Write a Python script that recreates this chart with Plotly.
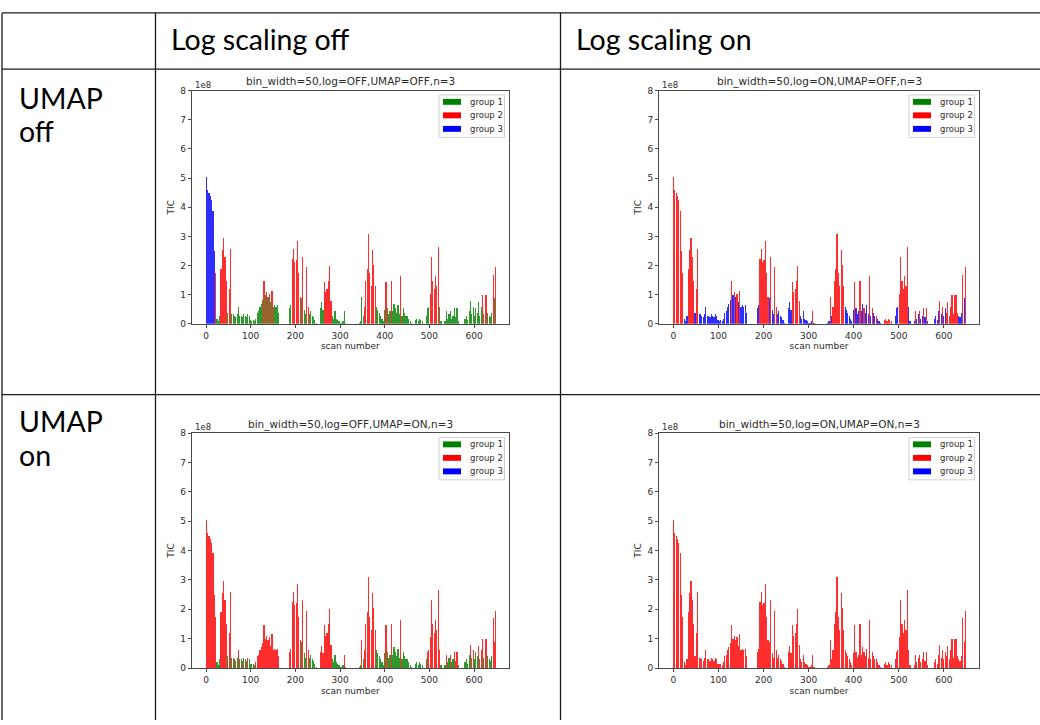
import plotly.graph_objects as go

W, H = 1040, 725

# ---------------- data (TIC in units of 1e8, one bar every 3 scans) ----------------
scan = list(range(0, 649, 3))

tic_e8 = [
    5.05, 4.6, 4.5, 4.4, 4.25, 3.9, 2.5, 1.75, 0.2, 0.1,      # 0-27
    0.3, 1.9, 2.55, 2.95, 2.3, 1.5, 0.4, 1.2, 2.6, 0.35,      # 30-57
    0.35, 0.3, 0.25, 0.35, 0.6, 0.3, 0.3, 0.25, 0.35, 0.3,    # 60-87
    0.25, 0.35, 0.3, 0.15, 0.12, 0.15, 0.1, 0.2, 0.4, 0.45,   # 90-117
    0.6, 0.7, 0.85, 1.48, 1.0, 1.1, 0.95, 1.05, 0.75, 1.15,   # 120-147
    0.6, 0.65, 0.6, 0.65, 0.4, 0, 0, 0, 0, 0,                 # 150-177
    0, 0, 0.55, 0.65, 2.25, 2.6, 2.15, 2.2, 2.85, 1.75,       # 180-207
    0.95, 0.9, 2.3, 0.5, 0.35, 1.95, 0.6, 0.35, 0.45, 0.3,    # 210-237
    0.25, 0.15, 0.05, 0, 0, 0.55, 0.75, 0.5, 1.45, 1.1,       # 240-267
    1.2, 1.5, 2.0, 0.8, 0.3, 0.2, 0.45, 0.2, 0.15, 0.1,       # 270-297
    0.05, 0.05, 0.1, 0.45, 0.05, 0, 0, 0, 0, 0,               # 300-327
    0, 0, 0, 0, 0.05, 0.1, 0.95, 0.3, 0.6, 1.5,               # 330-357
    1.9, 3.1, 1.75, 1.3, 2.55, 2.05, 1.3, 0.6, 0.5, 0.4,      # 360-387
    0.3, 0.2, 0.1, 0.5, 1.45, 0.55, 0.35, 0.45, 1.5, 0.45,    # 390-417
    0.7, 0.55, 0.4, 0.65, 0.35, 1.65, 0.3, 0.55, 0.4, 0.3,    # 420-447
    0.3, 0.2, 0.1, 0.05, 0, 0, 0.15, 0.2, 0.1, 0.2,           # 450-477
    0.15, 0.1, 0, 0, 0.3, 0.55, 0.6, 1.05, 2.3, 1.5,          # 480-507
    1.2, 1.65, 1.3, 2.65, 0.6, 0.1, 0, 0, 0.1, 0.45,          # 510-537
    0.2, 0.35, 0.45, 0.2, 0.3, 0.55, 0.25, 0.55, 0.1, 0,      # 540-567
    0, 0, 0, 0.2, 0.3, 0.15, 0.45, 0.8, 0.35, 0.6,            # 570-597
    0.3, 0.55, 0.4, 0.75, 0.3, 0.6, 1.0, 0.35, 1.0, 1.0,      # 600-627
    0.4, 0.3, 0.25, 0.4, 1.7, 0.9, 1.95,                      # 630-648
]

# cluster class of each scan bar
kind = list(
    "EEEEEEEPBB" "BPPPPPBPPB" "BCBBCBBCBB" "BCBBBBBCCC" "CCCPCPCPCP"
    "CCCCCBBBBB" "BBCCPPPPPP" "PBPBBPPBBB" "BBBBBCCCPP" "PPPPBBBBBB"
    "BBBFBBBBBB" "BBBBBBFBPP" "PPPPPPPBBB" "BBBBPBBBPB" "BDBBBPBDBB"
    "DBBBBBDDDD" "DDBBBCCPPP" "PPPPCBBBBF" "BBFBBFBFBB" "BBBBBBBFBF"
    "BBDFDFPDPP" "DBBBPCP"
)

# group assigned to each class in each of the four runs
titles = [
    "bin_width=50,log=OFF,UMAP=OFF,n=3",
    "bin_width=50,log=ON,UMAP=OFF,n=3",
    "bin_width=50,log=OFF,UMAP=ON,n=3",
    "bin_width=50,log=ON,UMAP=ON,n=3",
]
group_maps = [
    {"E": 3, "P": 2, "B": 1, "C": 1, "D": 1, "F": 1},
    {"E": 2, "P": 2, "B": 3, "C": 3, "D": 2, "F": 2},
    {"E": 2, "P": 2, "B": 1, "C": 2, "D": 1, "F": 2},
    {"E": 2, "P": 2, "B": 2, "C": 2, "D": 2, "F": 2},
]
group_names = ["group 1", "group 2", "group 3"]
y_ticks = [0, 1, 2, 3, 4, 5, 6, 7, 8]
x_ticks = [0, 100, 200, 300, 400, 500, 600]

col_headers = ["Log scaling off", "Log scaling on"]
row_headers = [("UMAP", "off"), ("UMAP", "on")]

# ---------------- styling ----------------
RGB = {1: (0, 128, 0), 2: (255, 0, 0), 3: (0, 0, 255)}
TXT = "#2b2b2b"
MPL_FONT = "DejaVu Sans"
TABLE_FONT = "Lato"

# axes boxes in pixels: (left, top, right, bottom)
boxes = [
    (191.7, 86.7, 509.0, 323.3),
    (659.0, 86.7, 979.0, 323.3),
    (191.7, 434.0, 509.0, 672.3),
    (659.0, 434.0, 979.0, 672.3),
]


def px(x):
    return x / W


def py(y):
    return 1 - y / H


fig = go.Figure()
shapes = []
annotations = []

for i, (title, gmap, box) in enumerate(zip(titles, group_maps, boxes)):
    sfx = "" if i == 0 else str(i + 1)
    xa, ya = "x" + sfx, "y" + sfx
    for g in (1, 2, 3):
        xs = [s for s, k in zip(scan, kind) if gmap[k] == g]
        ys = [v for v, k in zip(tic_e8, kind) if gmap[k] == g]
        r, gg, b = RGB[g]
        fig.add_trace(go.Bar(
            x=xs, y=ys, width=2.6, xaxis=xa, yaxis=ya, name=group_names[g - 1],
            marker=dict(color=f"rgba({r},{gg},{b},0.82)", line=dict(width=0)),
            showlegend=False, hoverinfo="x+y",
        ))
    L, T, R, B = box
    common = dict(
        showline=True, mirror=True, linecolor="#4a4a4a", linewidth=1,
        ticks="outside", ticklen=3, tickcolor="#4a4a4a", tickwidth=1,
        showgrid=False, zeroline=False,
        tickfont=dict(family=MPL_FONT, size=9, color=TXT),
    )
    fig.layout["xaxis" + sfx] = dict(
        domain=[px(L), px(R)], anchor=ya, range=[-32, 678],
        tickvals=x_ticks, ticktext=[str(t) for t in x_ticks],
        title=dict(text="scan number", font=dict(family=MPL_FONT, size=9, color=TXT), standoff=3),
        **common,
    )
    fig.layout["yaxis" + sfx] = dict(
        domain=[py(B), py(T)], anchor=xa, range=[0, 8],
        tickvals=y_ticks, ticktext=[str(t) for t in y_ticks],
        title=dict(text="TIC", font=dict(family=MPL_FONT, size=9, color=TXT), standoff=4),
        **common,
    )
    # title
    annotations.append(dict(
        x=px((L + R) / 2), y=py(T - 9), xref="paper", yref="paper", text=title,
        showarrow=False, xanchor="center", yanchor="middle",
        font=dict(family=MPL_FONT, size=10.5, color=TXT),
    ))
    # offset text
    annotations.append(dict(
        x=px(L + 1), y=py(T - 6), xref="paper", yref="paper", text="1e8",
        showarrow=False, xanchor="left", yanchor="middle",
        font=dict(family=MPL_FONT, size=8.5, color=TXT),
    ))
    # legend box
    lb_r = R - 4.5
    lb_l = lb_r - 65.5
    lb_t = T + 4.5
    lb_b = lb_t + 43
    shapes.append(dict(
        type="rect", xref="paper", yref="paper",
        x0=px(lb_l), x1=px(lb_r), y0=py(lb_b), y1=py(lb_t),
        line=dict(color="#d0d0d0", width=1), fillcolor="rgba(255,255,255,0.85)",
    ))
    for j, name in enumerate(group_names):
        cy = lb_t + 7 + 13.7 * j
        r, gg, b = RGB[j + 1]
        shapes.append(dict(
            type="rect", xref="paper", yref="paper",
            x0=px(lb_l + 4), x1=px(lb_l + 22), y0=py(cy + 3), y1=py(cy - 3),
            line=dict(width=0), fillcolor=f"rgb({r},{gg},{b})",
        ))
        annotations.append(dict(
            x=px(lb_l + 29), y=py(cy), xref="paper", yref="paper", text=name,
            showarrow=False, xanchor="left", yanchor="middle",
            font=dict(family=MPL_FONT, size=8.5, color=TXT),
        ))

# ---------------- table grid ----------------
line_style = dict(color="#1a1a1a", width=1.3)
for x in (2, 155.5, 560.5):
    shapes.append(dict(type="line", xref="paper", yref="paper",
                       x0=px(x), x1=px(x), y0=py(725), y1=py(8), line=line_style))
for y in (8, 65, 395):
    shapes.append(dict(type="line", xref="paper", yref="paper",
                       x0=px(2), x1=px(1040), y0=py(y), y1=py(y), line=line_style))

for txt, x in zip(col_headers, (169, 574)):
    annotations.append(dict(
        x=px(x), y=py(34), xref="paper", yref="paper", text=txt, showarrow=False,
        xanchor="left", yanchor="middle",
        font=dict(family=TABLE_FONT, size=28.5, color="#000000"),
    ))
for (l1, l2), y0 in zip(row_headers, (94, 422)):
    annotations.append(dict(
        x=px(17), y=py(y0), xref="paper", yref="paper", text=l1, showarrow=False,
        xanchor="left", yanchor="middle",
        font=dict(family=TABLE_FONT, size=28.5, color="#000000"),
    ))
    annotations.append(dict(
        x=px(17), y=py(y0 + 34), xref="paper", yref="paper", text=l2, showarrow=False,
        xanchor="left", yanchor="middle",
        font=dict(family=TABLE_FONT, size=28.5, color="#000000"),
    ))

fig.update_layout(
    width=W, height=H, margin=dict(l=0, r=0, t=0, b=0),
    paper_bgcolor="white", plot_bgcolor="white",
    barmode="overlay", bargap=0,
    shapes=shapes, annotations=annotations, showlegend=False,
)

fig.write_html(
    "out.html",
    config={"displayModeBar": False},
    post_script=(
        "document.documentElement.style.margin='0';"
        "document.body.style.margin='0';document.body.style.overflow='hidden';"
        "var gd=document.getElementsByClassName('plotly-graph-div')[0];"
        "gd.style.position='fixed';gd.style.top='0px';gd.style.left='0px';"
    ),
)
